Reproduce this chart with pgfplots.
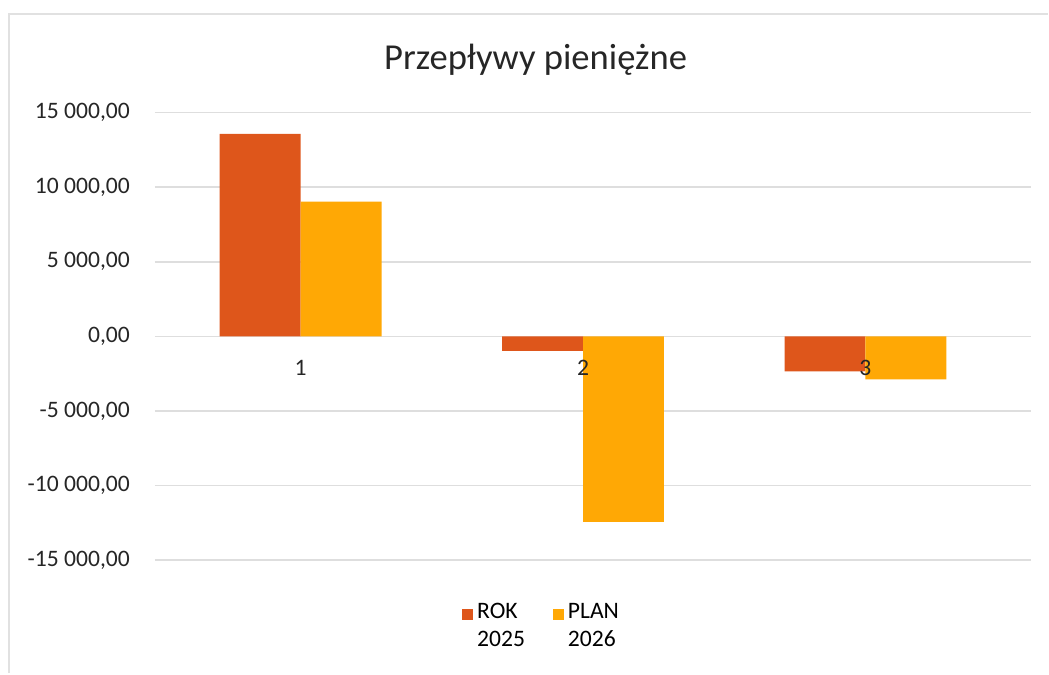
\documentclass[border=0pt]{standalone}
\usepackage{pgfplots}
\pgfplotsset{compat=1.18}
\usetikzlibrary{calc}
\usepackage{fontspec}
\setmainfont{Carlito}
\definecolor{rok}{RGB}{222,86,27}
\definecolor{plan}{RGB}{255,168,5}
\definecolor{gridc}{RGB}{222,222,222}
\definecolor{framec}{RGB}{225,225,225}

\begin{document}
\begin{tikzpicture}[catlabel/.style={anchor=north, yshift=-8.5pt, font=\fontsize{11.8}{14}\selectfont, text=black!85}]
\begin{axis}[
    at={(0,0)}, anchor=south west,
    scale only axis,
    width=438.5pt, height=224pt,
    xmin=0.484, xmax=3.587,
    ymin=-15000, ymax=15000,
    axis x line*=middle,
    axis y line*=left,
    x axis line style={draw=gridc, line width=0.8pt, -},
    y axis line style={draw=none},
    major tick length=0pt,
    scaled y ticks=false,
    xtick={1,2,3},
    xticklabels={,,},
    ytick={-15000,-10000,-5000,0,5000,10000,15000},
    yticklabels={{-15 000,00},{-10 000,00},{-5 000,00},{0,00},{5 000,00},{10 000,00},{15 000,00}},
    ymajorgrids,
    grid style={draw=gridc, line width=0.8pt},
    tick label style={font=\fontsize{11.8}{14}\selectfont, text=black!85},
    yticklabel style={xshift=-9pt},
    ybar, bar width=40.5pt,
    legend style={at={(0.4424,-0.0756)}, anchor=north, draw=none,
        font=\fontsize{11.8}{14}\selectfont, cells={align=left, anchor=north west},
        /tikz/every even column/.append style={column sep=12pt}},
    legend columns=2,
    legend image code/.code={\fill[#1] (0pt,-10.5pt) rectangle (5.5pt,-5pt);},
]
\addplot[fill=rok, draw=none, bar shift=-20.25pt] coordinates {(1,13580) (2,-960) (3,-2340)};
\addlegendentry{ROK\\2025}
\addplot[fill=plan, draw=none, bar shift=20.25pt] coordinates {(1,9040) (2,-12430) (3,-2870)};
\addlegendentry{PLAN\\2026}
% category labels sit on the zero line, over the bars
\node[catlabel] at (axis cs:1,0) {1};
\node[catlabel] at (axis cs:2,0) {2};
\node[catlabel] at (axis cs:3,0) {3};
\coordinate (O) at (rel axis cs:0,0);
\end{axis}
% page size and the chart frame, in pt from the plot corner
\path (O) ++(-77.5pt,-56.65pt) coordinate (BL);
\path (O) ++(447pt,280.35pt) coordinate (TR);
\path (BL) rectangle (TR);
\draw[framec, line width=0.8pt] ($(O)+(-73pt,-56.65pt)$) -- ($(O)+(-73pt,273.35pt)$) -- ($(O)+(447pt,273.35pt)$);
\node[font=\fontsize{18.3}{22}\selectfont, text=black!85] at ($(O)+(190.5pt,250.35pt)$) {Przepływy pieniężne};
\end{tikzpicture}
\end{document}
